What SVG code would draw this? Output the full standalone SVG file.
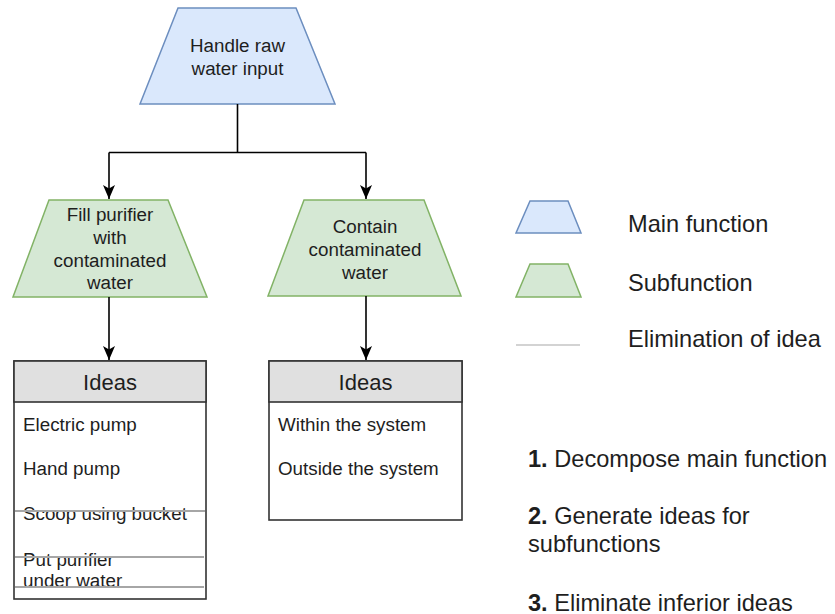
<svg xmlns="http://www.w3.org/2000/svg" width="835" height="614" viewBox="0 0 835 614">
<defs>
<style>
text{font-family:"Liberation Sans",Arial,Helvetica,sans-serif;fill:#1e1e1e}
.main{fill:#dae8fc;stroke:#6c8ebf;stroke-width:1.5}
.sub{fill:#d5e8d4;stroke:#82b366;stroke-width:1.5}
.t{font-size:18.8px;text-anchor:middle}
.item{font-size:18.8px}
.hdr{font-size:22px;text-anchor:middle}
.box{fill:#ffffff;stroke:#333333;stroke-width:1.6}
.head{fill:#e0e0e0;stroke:#333333;stroke-width:1.6}
.strike{stroke:#a6a6a6;stroke-width:2;fill:none}
.leg{font-size:23.6px}
.conn{fill:none;stroke:#000;stroke-width:1.6}
</style>
<marker id="arr" markerUnits="userSpaceOnUse" markerWidth="14" markerHeight="14" viewBox="0 0 14 12" refX="14" refY="6" orient="auto">
<path d="M0,0 L14,6 L0,12 L3.5,6 Z" fill="#000"/>
</marker>
</defs>
<rect width="835" height="614" fill="#ffffff"/>

<g id="main-function">
<polygon class="main" points="178,8 296,8 335,104 140,104"/>
<text class="t" x="237.5" y="51.5">Handle raw</text>
<text class="t" x="237.5" y="74.5">water input</text>
</g>

<g id="sub-fill">
<polygon class="sub" points="49,200 168,200 207,297 13,297"/>
<text class="t" x="110" y="220.5">Fill purifier</text>
<text class="t" x="110" y="243.5">with</text>
<text class="t" x="110" y="266.5">contaminated</text>
<text class="t" x="110" y="288.5">water</text>
</g>

<g id="sub-contain">
<polygon class="sub" points="304,200 424,200 461,296 268,296"/>
<text class="t" x="365" y="232.5">Contain</text>
<text class="t" x="365" y="255.5">contaminated</text>
<text class="t" x="365" y="278.5">water</text>
</g>

<g id="ideas-fill">
<rect class="box" x="14" y="361" width="192" height="238"/>
<rect class="head" x="14" y="361" width="192" height="41"/>
<text class="hdr" x="110" y="389.5">Ideas</text>
<text class="item" x="23" y="430.5">Electric pump</text>
<text class="item" x="23" y="474.5">Hand pump</text>
<text class="item" x="23" y="519.5">Scoop using bucket</text>
<text class="item" x="23" y="565.5">Put purifier</text>
<text class="item" x="23" y="586.5">under water</text>
<line class="strike" x1="15" y1="511" x2="205" y2="511"/>
<line class="strike" x1="15" y1="557" x2="204" y2="557"/>
<line class="strike" x1="15" y1="587" x2="204" y2="587"/>
</g>

<g id="ideas-contain">
<rect class="box" x="269" y="361" width="193" height="159"/>
<rect class="head" x="269" y="361" width="193" height="41"/>
<text class="hdr" x="365.5" y="389.5">Ideas</text>
<text class="item" x="278" y="430.5">Within the system</text>
<text class="item" x="278" y="474.5">Outside the system</text>
</g>

<g id="connectors">
<path class="conn" d="M237.5,104 V152.5"/>
<path class="conn" d="M109,152.5 H366"/>
<path class="conn" d="M109,152.5 V199" marker-end="url(#arr)"/>
<path class="conn" d="M366,152.5 V199" marker-end="url(#arr)"/>
<path class="conn" d="M109,297 V360" marker-end="url(#arr)"/>
<path class="conn" d="M366,296 V360" marker-end="url(#arr)"/>
</g>

<g id="legend">
<polygon class="main" points="530,201 568,201 581,233 516,233"/>
<text class="leg" x="628" y="231.5">Main function</text>
<polygon class="sub" points="530,264 568,264 581,297 516,297"/>
<text class="leg" x="628" y="290.5">Subfunction</text>
<line x1="516" y1="345" x2="580" y2="345" stroke="#c4c4c4" stroke-width="1.5"/>
<text class="leg" x="628" y="346.5">Elimination of idea</text>
</g>

<g id="steps">
<text class="leg" x="528" y="466.5"><tspan font-weight="bold">1.</tspan> Decompose main function</text>
<text class="leg" x="528" y="523.5"><tspan font-weight="bold">2.</tspan> Generate ideas for</text>
<text class="leg" x="528" y="551.5">subfunctions</text>
<text class="leg" x="528" y="610.5"><tspan font-weight="bold">3.</tspan> Eliminate inferior ideas</text>
</g>
</svg>
